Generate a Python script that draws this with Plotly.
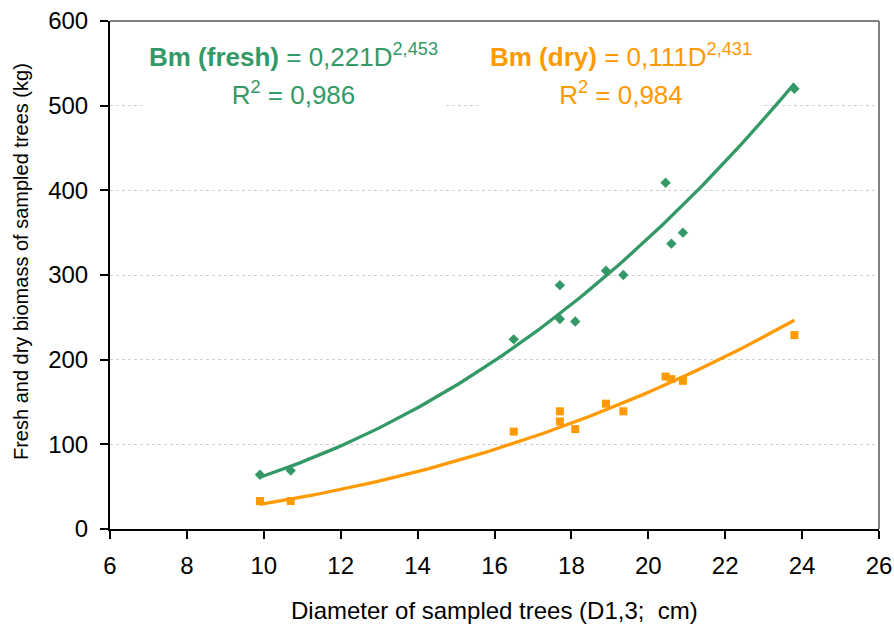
import numpy as np
import plotly.graph_objects as go

# diameter of sampled trees (D1,3; cm)
diameter = [9.9, 10.7, 16.5, 17.7, 17.7, 18.1, 18.9, 19.35, 20.45, 20.6, 20.9, 23.8]
# measured biomass (kg)
fresh_bm = [64, 69, 224, 288, 248, 245, 305, 300, 409, 337, 350, 520]
dry_bm = [33, 33, 115, 139, 127, 118, 148, 139, 180, 177, 175, 229]

# power trendlines as printed on the chart
fresh_a, fresh_b = 0.221, 2.453
dry_a, dry_b = 0.111, 2.431

green = "#339966"
orange = "#FF9900"

d_fit = np.linspace(min(diameter), max(diameter), 120)

fig = go.Figure()
fig.add_trace(go.Scatter(x=d_fit, y=fresh_a * d_fit ** fresh_b, mode="lines",
                         line=dict(color=green, width=3.3), hoverinfo="skip"))
fig.add_trace(go.Scatter(x=d_fit, y=dry_a * d_fit ** dry_b, mode="lines",
                         line=dict(color=orange, width=3.3), hoverinfo="skip"))
fig.add_trace(go.Scatter(x=diameter, y=fresh_bm, mode="markers",
                         marker=dict(symbol="diamond", size=8, color=green)))
fig.add_trace(go.Scatter(x=diameter, y=dry_bm, mode="markers",
                         marker=dict(symbol="square", size=8, color=orange)))

# grey frame on top and right
fig.add_shape(type="line", xref="paper", yref="paper", x0=0, x1=1, y0=1, y1=1,
              line=dict(color="#808080", width=2), layer="above")
fig.add_shape(type="line", xref="paper", yref="paper", x0=1, x1=1, y0=0, y1=1,
              line=dict(color="#808080", width=2), layer="above")

# equation labels, one annotation per line so the spacing can follow the original
labels = [
    (10.76, "<b>Bm (fresh)</b> = 0,221D<sup>2,453</sup>", "R<sup>2</sup> = 0,986", green, 295),
    (19.28, "<b>Bm (dry)</b> = 0,111D<sup>2,431</sup>", "R<sup>2</sup> = 0,984", orange, 276),
]
for xc, line1, line2, col, w in labels:
    fig.add_annotation(x=xc, y=559, xref="x", yref="y", showarrow=False, text=line1,
                       font=dict(color=col, size=26), bgcolor="white")
    fig.add_annotation(x=xc, y=514, xref="x", yref="y", showarrow=False, text=line2,
                       font=dict(color=col, size=26), bgcolor="white", width=w)

# axis titles
fig.add_annotation(x=0.5, y=-0.1614, xref="paper", yref="paper", showarrow=False,
                   text="Diameter of sampled trees (D1,3;  cm)", font=dict(size=24),
                   xanchor="center", yanchor="middle")
fig.add_annotation(x=-0.1157, y=0.5256, xref="paper", yref="paper", showarrow=False,
                   text="Fresh and dry biomass of sampled trees (kg)", font=dict(size=20),
                   textangle=-90, xanchor="center", yanchor="middle")

fig.update_layout(
    width=894, height=624,
    margin=dict(l=110, r=15, t=21, b=95, autoexpand=False),
    plot_bgcolor="white", paper_bgcolor="white",
    showlegend=False,
    font=dict(family="Liberation Sans, Arial, sans-serif", color="black", size=22),
)
fig.update_xaxes(range=[6, 26], dtick=2, showgrid=False, zeroline=False,
                 showline=True, linecolor="black", linewidth=2,
                 ticks="outside", ticklen=8, tickwidth=2, tickcolor="black",
                 tickfont=dict(size=24), ticklabelstandoff=6, automargin=False,
                 ticklabeloverflow="allow")
fig.update_yaxes(range=[0, 600], dtick=100, showgrid=True, gridcolor="#d0d0d0",
                 griddash="dot", gridwidth=1, zeroline=False,
                 showline=True, linecolor="black", linewidth=2,
                 ticks="outside", ticklen=8, tickwidth=2, tickcolor="black",
                 tickfont=dict(size=24), ticklabelstandoff=7, automargin=False,
                 ticklabeloverflow="allow")

fig.write_html("out.html", config={"displayModeBar": False},
               post_script="document.body.style.margin='0';")
